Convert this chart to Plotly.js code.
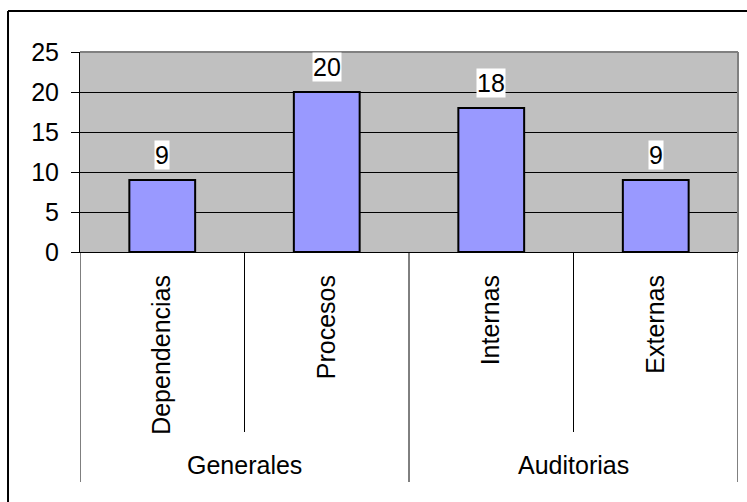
<!DOCTYPE html>
<html>
<head>
<meta charset="utf-8">
<script src="https://cdn.plot.ly/plotly-3.0.1.min.js"></script>
<style>
html,body{margin:0;padding:0;background:#fff;}
#chart{width:747px;height:502px;}
</style>
</head>
<body>
<div id="chart"></div>
<script>
var categories = ["Dependencias", "Procesos", "Internas", "Externas"];
var groups = ["Generales", "Auditorias"];
var groupCenters = [0.5, 2.5];
var values = [9, 20, 18, 9];
var yTicks = [0, 5, 10, 15, 20, 25];
var shortDividers = [0.5, 2.5];
var longDividers = [-0.5, 1.5, 3.5];

var FONT = "Liberation Sans, Arial, sans-serif";
var FS = 25;

var trace = {
  type: "bar",
  x: categories,
  y: values,
  width: 0.4,
  marker: {color: "#9999FF", line: {color: "#000000", width: 2}},
  hoverinfo: "none"
};

var annotations = [];
for (var i = 0; i < categories.length; i++) {
  annotations.push({
    x: categories[i], y: values[i], xref: "x", yref: "y",
    text: String(values[i]), showarrow: false,
    yanchor: "bottom", yshift: 10,
    bgcolor: "#ffffff", borderpad: 0,
    font: {family: FONT, size: FS, color: "#000"}
  });
}
for (var g = 0; g < groups.length; g++) {
  annotations.push({
    x: groupCenters[g], y: -1.065, xref: "x", yref: "paper",
    text: groups[g], showarrow: false, yanchor: "middle",
    font: {family: FONT, size: FS, color: "#000"}
  });
}

var shapes = [];
shortDividers.forEach(function (d) {
  shapes.push({type: "line", xref: "x", yref: "paper", x0: d, x1: d, y0: 0, y1: -0.9,
    line: {color: "#000", width: 1}});
});
longDividers.forEach(function (d) {
  shapes.push({type: "line", xref: "x", yref: "paper", x0: d, x1: d, y0: 0, y1: -1.15,
    line: {color: "#000", width: 1}});
});
// plot area border (gray top/right)
shapes.push({type: "line", xref: "paper", yref: "paper", x0: 0, x1: 1, y0: 1, y1: 1,
  line: {color: "#808080", width: 2}});
shapes.push({type: "line", xref: "paper", yref: "paper", x0: 1, x1: 1, y0: 0, y1: 1,
  line: {color: "#808080", width: 2}});
// outer chart border (only left and top visible in the cropped reference)
shapes.push({type: "line", xref: "paper", yref: "paper", x0: -0.1094, x1: -0.1094, y0: -1.3, y1: 1.205,
  line: {color: "#000", width: 2}});
shapes.push({type: "line", xref: "paper", yref: "paper", x0: -0.1094, x1: 1.02, y0: 1.205, y1: 1.205,
  line: {color: "#000", width: 2}});

var layout = {
  width: 747, height: 502,
  margin: {l: 80, r: 9, t: 52, b: 250, pad: 0},
  paper_bgcolor: "#ffffff",
  plot_bgcolor: "#C0C0C0",
  showlegend: false,
  bargap: 0.6,
  xaxis: {
    type: "category",
    range: [-0.5, 3.5],
    tickangle: -90,
    ticks: "",
    ticklabelstandoff: 12,
    showgrid: false,
    showline: true, linecolor: "#000", linewidth: 1,
    tickfont: {family: FONT, size: FS, color: "#000"},
    fixedrange: true
  },
  yaxis: {
    range: [0, 25],
    tickvals: yTicks,
    ticks: "outside", ticklen: 8, tickcolor: "#000", tickwidth: 1,
    showline: true, linecolor: "#000", linewidth: 1,
    showgrid: true, gridcolor: "#000", gridwidth: 1,
    zeroline: false,
    ticklabelstandoff: 7,
    tickfont: {family: FONT, size: FS, color: "#000"},
    fixedrange: true
  },
  annotations: annotations,
  shapes: shapes
};

Plotly.newPlot("chart", [trace], layout, {displayModeBar: false, staticPlot: true});
</script>
</body>
</html>
